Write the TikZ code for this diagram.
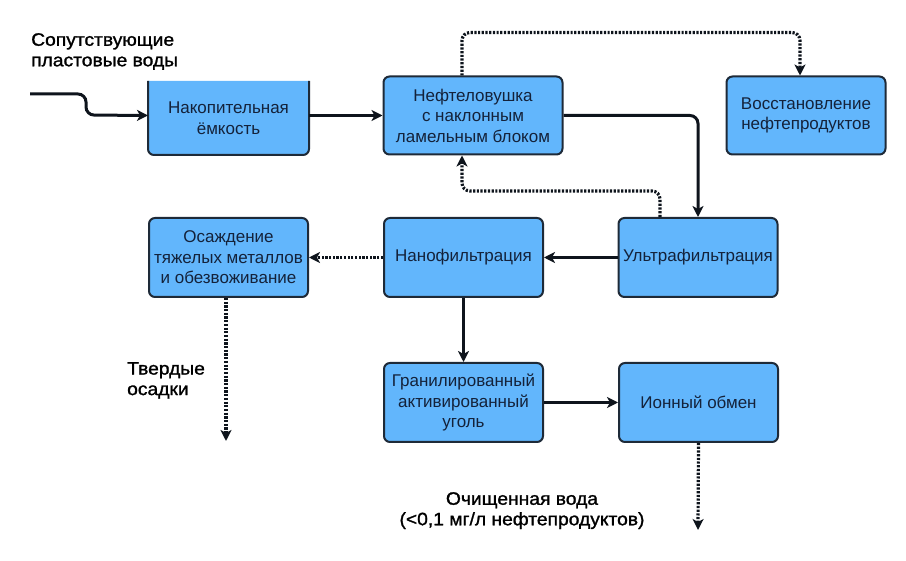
\documentclass[tikz,border=0pt]{standalone}
\usepackage{fontspec}
\setmainfont{Liberation Sans}
\newfontfamily\labfont[FakeBold=1.3,FakeStretch=1.07]{Liberation Sans}
\usetikzlibrary{arrows.meta,backgrounds}
\definecolor{boxfill}{RGB}{98,182,252}
\definecolor{boxline}{RGB}{30,42,56}
\definecolor{boxtext}{RGB}{20,34,58}
\definecolor{flowcol}{RGB}{14,20,28}
\tikzset{
  box/.style={draw=boxline, line width=2pt, fill=boxfill, rounded corners=6pt,
    text=boxtext, align=center, font=\fontsize{17}{20.5}\selectfont, inner sep=0pt},
  flow/.style={draw=flowcol, line width=3pt, rounded corners=8pt,
    -{Stealth[length=11pt,width=11pt,inset=3pt]}},
  dotflow/.style={flow, line width=3.2pt, dash pattern=on 2.2pt off 1.5pt},
  outlab/.style={text=black, align=left, font=\labfont\fontsize{18}{20.5}\selectfont, inner sep=0pt}
}
\begin{document}
\begin{tikzpicture}[x=1pt,y=-1pt]
\useasboundingbox (0,0) rectangle (906,561);
% boxes
\node[box, draw=none, fill=none, minimum width=159pt, minimum height=72pt] (b1) at (228.5,118) {Накопительная\\ёмкость};
\begin{scope}[on background layer]
\path[fill=boxfill, draw=boxline, line width=2pt, rounded corners=6pt]
  (b1.north west) -- (b1.south west) -- (b1.south east) -- (b1.north east);
\end{scope}
\node[box, minimum width=179pt, minimum height=78pt] (b2) at (473,115.5) {Нефтеловушка\\с наклонным\\ламельным блоком};
\node[box, minimum width=159pt, minimum height=78pt] (b3) at (806,115.5) {Восстановление\\нефтепродуктов};
\node[box, minimum width=159pt, minimum height=79pt] (b4) at (228.5,257.5) {Осаждение\\тяжелых металлов\\и обезвоживание};
\node[box, minimum width=159pt, minimum height=79pt] (b5) at (463.5,257.5) {Нанофильтрация};
\node[box, minimum width=159pt, minimum height=79pt] (b6) at (698,257.5) {Ультрафильтрация};
\node[box, minimum width=159pt, minimum height=79pt] (b7) at (463.5,402.5) {Гранилированный\\активированный\\уголь};
\node[box, minimum width=159pt, minimum height=79pt] (b8) at (698.5,402.5) {Ионный обмен};
% labels
\node[outlab, anchor=north west] (l1) at (31,33) {Сопутствующие\\пластовые воды};
\node[outlab, anchor=north west] (l2) at (127,362) {Твердые\\осадки};
\node[outlab, align=center, anchor=north] (l3) at (522,492) {Очищенная вода\\(<0,1 мг/л нефтепродуктов)};
% coordinates
\coordinate (in) at (30,94);
\coordinate (out4) at (226,441);
\coordinate (out8) at (698,530);
% connectors
\draw[flow] (in) -- (86,94) -- (86,115) -- (b1.west |- b2.west);
\draw[flow] (b1.east |- b2.west) -- (b2.west);
\draw[flow] (b2.east) -- (b2.east -| b6.north) -- (b6.north);
\draw[flow] (b6.west) -- (b5.east);
\draw[dotflow] (b5.west) -- (b4.east);
\draw[flow] (b5.south) -- (b7.north);
\draw[flow] (b7.east) -- (b8.west);
\draw[dotflow] ([xshift=-2.5pt]b4.south) -- (out4);
\draw[dotflow] (b8.south) -- (out8);
\draw[dotflow] ([xshift=-11pt]b2.north) -- ++(0,-43) -| ([xshift=-6pt]b3.north);
\draw[dotflow] ([xshift=-38pt]b6.north) -- ++(0,-26) -| ([xshift=-11pt]b2.south);
\end{tikzpicture}
\end{document}
